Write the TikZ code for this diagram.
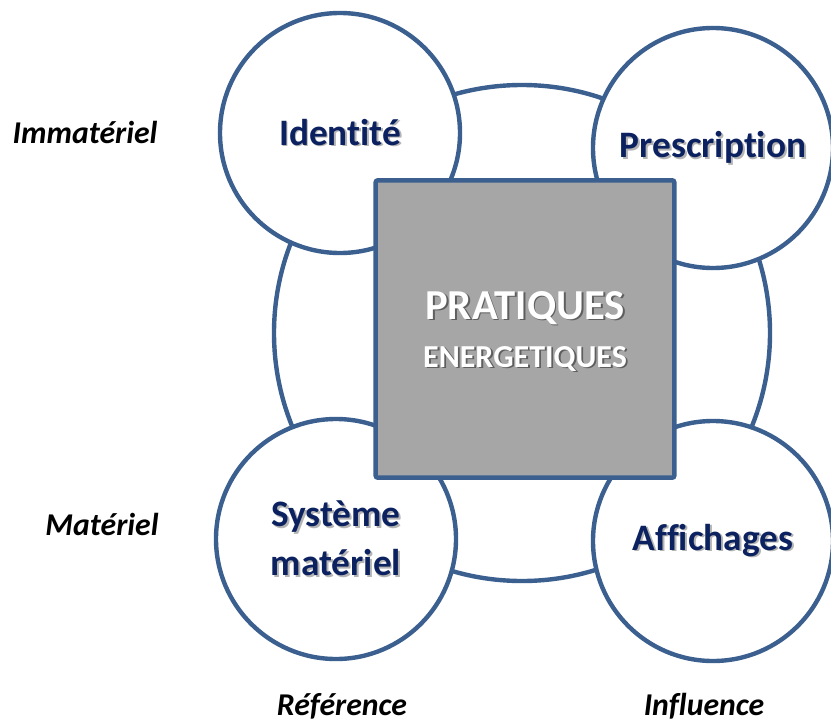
\documentclass[tikz,border=0pt]{standalone}
\usepackage{fontspec}
\setmainfont{Carlito}[Ligatures=NoCommon]
\definecolor{ringblue}{HTML}{3B6090}
\definecolor{labelblue}{HTML}{0C2260}
\definecolor{coregray}{HTML}{A6A6A6}
\definecolor{softshadow}{HTML}{B4B4B4}
\definecolor{hardshadow}{HTML}{5E5E5E}
% text with a small drop shadow
\newcommand{\shadowed}[2]{\leavevmode\rlap{\kern1.4pt\raisebox{-1.4pt}{\color{#1}#2}}#2}
\tikzset{
  ring/.style={circle, draw=ringblue, line width=3.3pt, minimum size=372pt, inner sep=0pt},
  bubble/.style={circle, draw=ringblue, line width=3.3pt, fill=white, minimum size=180pt,
    inner sep=0pt, text=labelblue, align=center,
    font=\fontsize{28}{36.5}\selectfont\bfseries},
  core/.style={rectangle, draw=ringblue, line width=3.3pt, fill=coregray,
    minimum width=224pt, minimum height=223pt, rounded corners=1.5pt},
  coretext/.style={anchor=base, text=white, inner sep=0pt},
  axislabel/.style={anchor=base, inner sep=0pt, font=\fontsize{23.8}{28}\selectfont\bfseries\itshape}
}
\begin{document}
\begin{tikzpicture}[x=0.75pt, y=-0.75pt]
  \useasboundingbox (0,0) rectangle (831,725);
  % outer ring
  \node[ring] (ring) at (522,333) {};
  % the four fields
  \node[bubble] (ident) at (340,133) {\shadowed{softshadow}{Identité}};
  \node[bubble] (presc) at (713,148) {\shadowed{softshadow}{Prescription}};
  \node[bubble] (syst) at (336,539) {\shadowed{softshadow}{Système}\\\shadowed{softshadow}{matériel}};
  \node[bubble] (affich) at (713,541) {\shadowed{softshadow}{Affichages}};
  % centre square
  \node[core] (core) at (525,329) {};
  \node[coretext, font=\fontsize{32}{36}\selectfont\bfseries] (prat) at (525,319) {\shadowed{hardshadow}{PRATIQUES}};
  \node[coretext, font=\fontsize{24}{28}\selectfont\bfseries] (energ) at (525,367) {\shadowed{hardshadow}{ENERGETIQUES}};
  % axes
  \node[axislabel] (immat) at (85,143) {Immatériel};
  \node[axislabel] (mat) at (102,535) {Matériel};
  \node[axislabel] (refer) at (342,715) {Référence};
  \node[axislabel] (infl) at (704,715) {Influence};
\end{tikzpicture}
\end{document}
